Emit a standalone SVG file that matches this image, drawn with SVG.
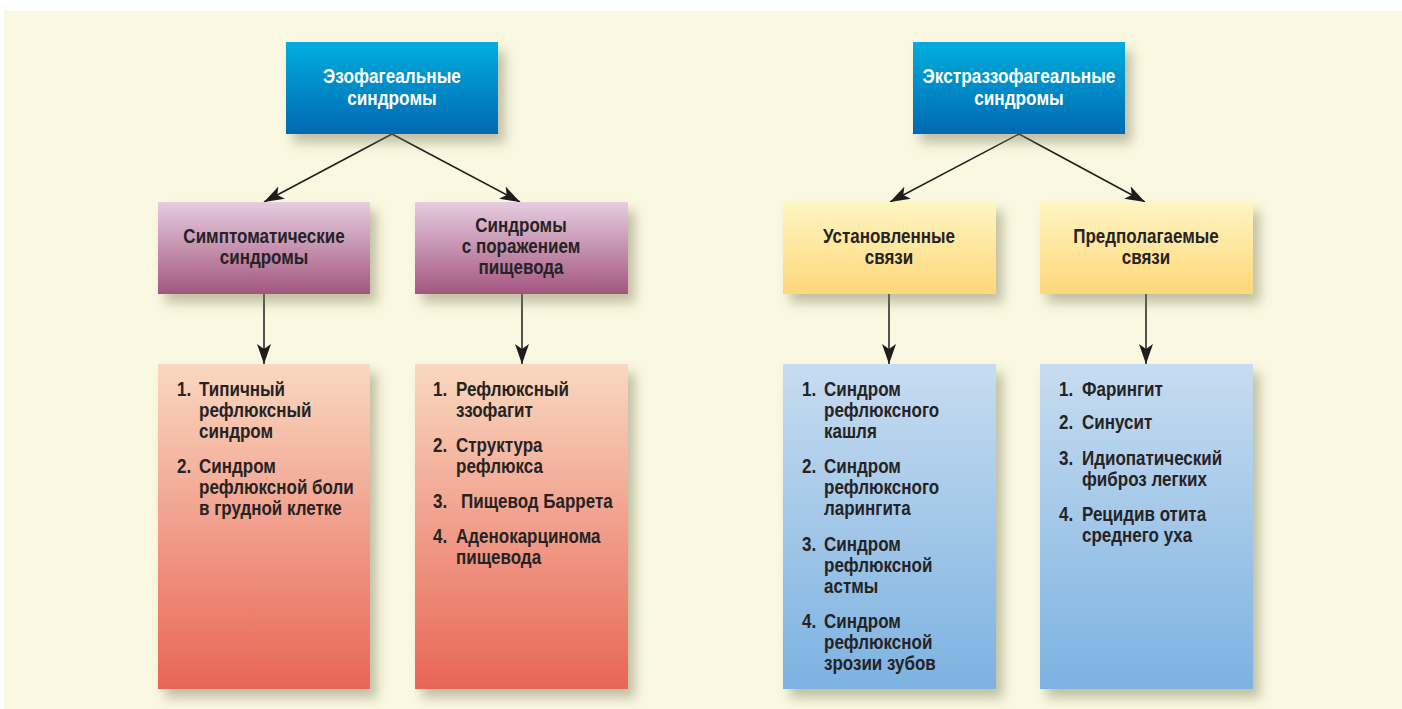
<svg xmlns="http://www.w3.org/2000/svg" width="1402" height="709" viewBox="0 0 1402 709">
  <defs>
    <linearGradient id="gTop" x1="0" y1="0" x2="0" y2="1">
      <stop offset="0" stop-color="#02aedd"/>
      <stop offset="1" stop-color="#0569b2"/>
    </linearGradient>
    <linearGradient id="gPurple" x1="0" y1="0" x2="0" y2="1">
      <stop offset="0" stop-color="#e6cde0"/>
      <stop offset="1" stop-color="#a3567e"/>
    </linearGradient>
    <linearGradient id="gYellow" x1="0" y1="0" x2="0" y2="1">
      <stop offset="0" stop-color="#fff6c2"/>
      <stop offset="1" stop-color="#fdd779"/>
    </linearGradient>
    <linearGradient id="gSalmon" x1="0" y1="0" x2="0" y2="1">
      <stop offset="0" stop-color="#f9d8c0"/>
      <stop offset="1" stop-color="#e96556"/>
    </linearGradient>
    <linearGradient id="gBlue" x1="0" y1="0" x2="0" y2="1">
      <stop offset="0" stop-color="#c7dcf0"/>
      <stop offset="1" stop-color="#7cb2e1"/>
    </linearGradient>
    <filter id="shadow" x="-20%" y="-20%" width="150%" height="150%">
      <feDropShadow dx="7" dy="9" stdDeviation="6" flood-color="#7d7a5c" flood-opacity="0.45"/>
    </filter>
    <marker id="arrow" markerUnits="userSpaceOnUse" markerWidth="22" markerHeight="16" refX="20" refY="7" orient="auto">
      <path d="M0,0 L20,7 L0,14 L5,7 Z" fill="#1e1c1c"/>
    </marker>
    <style>
      .t { font-family: "Liberation Sans", Arial, sans-serif; font-weight: bold; font-size: 20px; fill: #262324; }
      .w { fill: #ffffff; }
      .c { text-anchor: middle; }
      .conn { stroke: #1e1c1c; stroke-width: 1.5; fill: none; marker-end: url(#arrow); }
    </style>
  </defs>

  <rect x="4" y="11" width="1398" height="698" fill="#faf8e0"/>

  <g id="connectors">
    <line class="conn" x1="392" y1="134" x2="264" y2="202"/>
    <line class="conn" x1="392" y1="134" x2="520" y2="202"/>
    <line class="conn" x1="1019" y1="134" x2="890" y2="202"/>
    <line class="conn" x1="1019" y1="134" x2="1145" y2="202"/>
    <line class="conn" x1="264" y1="294" x2="264" y2="364"/>
    <line class="conn" x1="522" y1="294" x2="522" y2="364"/>
    <line class="conn" x1="889" y1="294" x2="889" y2="364"/>
    <line class="conn" x1="1146" y1="294" x2="1146" y2="364"/>
  </g>

  <g id="esophageal">
    <rect x="286" y="42" width="212" height="92" fill="url(#gTop)" filter="url(#shadow)"/>
    <text class="t w c" transform="translate(392,83) scale(0.86,1)">Эзофагеальные</text>
    <text class="t w c" transform="translate(392,105) scale(0.86,1)">синдромы</text>
  </g>

  <g id="extraesophageal">
    <rect x="913" y="42" width="212" height="92" fill="url(#gTop)" filter="url(#shadow)"/>
    <text class="t w c" transform="translate(1019,83) scale(0.86,1)">Экстраззофагеальные</text>
    <text class="t w c" transform="translate(1019,105) scale(0.86,1)">синдромы</text>
  </g>

  <g id="symptomatic">
    <rect x="158" y="202" width="212" height="92" fill="url(#gPurple)" filter="url(#shadow)"/>
    <text class="t c" transform="translate(264,243) scale(0.85,1)">Симптоматические</text>
    <text class="t c" transform="translate(264,264) scale(0.85,1)">синдромы</text>
  </g>

  <g id="lesion">
    <rect x="415" y="202" width="213" height="92" fill="url(#gPurple)" filter="url(#shadow)"/>
    <text class="t c" transform="translate(521,232) scale(0.85,1)">Синдромы</text>
    <text class="t c" transform="translate(521,253) scale(0.85,1)">с поражением</text>
    <text class="t c" transform="translate(521,274) scale(0.85,1)">пищевода</text>
  </g>

  <g id="established">
    <rect x="783" y="202" width="213" height="92" fill="url(#gYellow)" filter="url(#shadow)"/>
    <text class="t c" transform="translate(889,243) scale(0.85,1)">Установленные</text>
    <text class="t c" transform="translate(889,264) scale(0.85,1)">связи</text>
  </g>

  <g id="presumed">
    <rect x="1040" y="202" width="213" height="92" fill="url(#gYellow)" filter="url(#shadow)"/>
    <text class="t c" transform="translate(1146,243) scale(0.85,1)">Предполагаемые</text>
    <text class="t c" transform="translate(1146,264) scale(0.85,1)">связи</text>
  </g>

  <g id="list-symptomatic">
    <rect x="158" y="364" width="212" height="325" fill="url(#gSalmon)" filter="url(#shadow)"/>
    <text class="t" transform="translate(177,396) scale(0.85,1)">1.</text>
    <text class="t" transform="translate(199,396) scale(0.85,1)">Типичный</text>
    <text class="t" transform="translate(199,417) scale(0.85,1)">рефлюксный</text>
    <text class="t" transform="translate(199,438) scale(0.85,1)">синдром</text>
    <text class="t" transform="translate(177,473) scale(0.85,1)">2.</text>
    <text class="t" transform="translate(199,473) scale(0.85,1)">Синдром</text>
    <text class="t" transform="translate(199,494) scale(0.85,1)">рефлюксной боли</text>
    <text class="t" transform="translate(199,515) scale(0.85,1)">в грудной клетке</text>
  </g>

  <g id="list-lesion">
    <rect x="415" y="364" width="213" height="325" fill="url(#gSalmon)" filter="url(#shadow)"/>
    <text class="t" transform="translate(433,396) scale(0.85,1)">1.</text>
    <text class="t" transform="translate(456,396) scale(0.85,1)">Рефлюксный</text>
    <text class="t" transform="translate(456,417) scale(0.85,1)">ззофагит</text>
    <text class="t" transform="translate(433,452) scale(0.85,1)">2.</text>
    <text class="t" transform="translate(456,452) scale(0.85,1)">Структура</text>
    <text class="t" transform="translate(456,473) scale(0.85,1)">рефлюкса</text>
    <text class="t" transform="translate(433,508) scale(0.85,1)">3.</text>
    <text class="t" transform="translate(461,508) scale(0.85,1)">Пищевод Баррета</text>
    <text class="t" transform="translate(433,543) scale(0.85,1)">4.</text>
    <text class="t" transform="translate(456,543) scale(0.85,1)">Аденокарцинома</text>
    <text class="t" transform="translate(456,564) scale(0.85,1)">пищевода</text>
  </g>

  <g id="list-established">
    <rect x="783" y="364" width="213" height="325" fill="url(#gBlue)" filter="url(#shadow)"/>
    <text class="t" transform="translate(802,396) scale(0.85,1)">1.</text>
    <text class="t" transform="translate(824,396) scale(0.85,1)">Синдром</text>
    <text class="t" transform="translate(824,417) scale(0.85,1)">рефлюксного</text>
    <text class="t" transform="translate(824,438) scale(0.85,1)">кашля</text>
    <text class="t" transform="translate(802,473) scale(0.85,1)">2.</text>
    <text class="t" transform="translate(824,473) scale(0.85,1)">Синдром</text>
    <text class="t" transform="translate(824,494) scale(0.85,1)">рефлюксного</text>
    <text class="t" transform="translate(824,515) scale(0.85,1)">ларингита</text>
    <text class="t" transform="translate(802,551) scale(0.85,1)">3.</text>
    <text class="t" transform="translate(824,551) scale(0.85,1)">Синдром</text>
    <text class="t" transform="translate(824,572) scale(0.85,1)">рефлюксной</text>
    <text class="t" transform="translate(824,593) scale(0.85,1)">астмы</text>
    <text class="t" transform="translate(802,628) scale(0.85,1)">4.</text>
    <text class="t" transform="translate(824,628) scale(0.85,1)">Синдром</text>
    <text class="t" transform="translate(824,649) scale(0.85,1)">рефлюксной</text>
    <text class="t" transform="translate(824,670) scale(0.85,1)">зрозии зубов</text>
  </g>

  <g id="list-presumed">
    <rect x="1040" y="364" width="213" height="325" fill="url(#gBlue)" filter="url(#shadow)"/>
    <text class="t" transform="translate(1059,396) scale(0.85,1)">1.</text>
    <text class="t" transform="translate(1082,396) scale(0.85,1)">Фарингит</text>
    <text class="t" transform="translate(1059,429) scale(0.85,1)">2.</text>
    <text class="t" transform="translate(1082,429) scale(0.85,1)">Синусит</text>
    <text class="t" transform="translate(1059,465) scale(0.85,1)">3.</text>
    <text class="t" transform="translate(1082,465) scale(0.85,1)">Идиопатический</text>
    <text class="t" transform="translate(1082,486) scale(0.85,1)">фиброз легких</text>
    <text class="t" transform="translate(1059,521) scale(0.85,1)">4.</text>
    <text class="t" transform="translate(1082,521) scale(0.85,1)">Рецидив отита</text>
    <text class="t" transform="translate(1082,542) scale(0.85,1)">среднего уха</text>
  </g>
</svg>
